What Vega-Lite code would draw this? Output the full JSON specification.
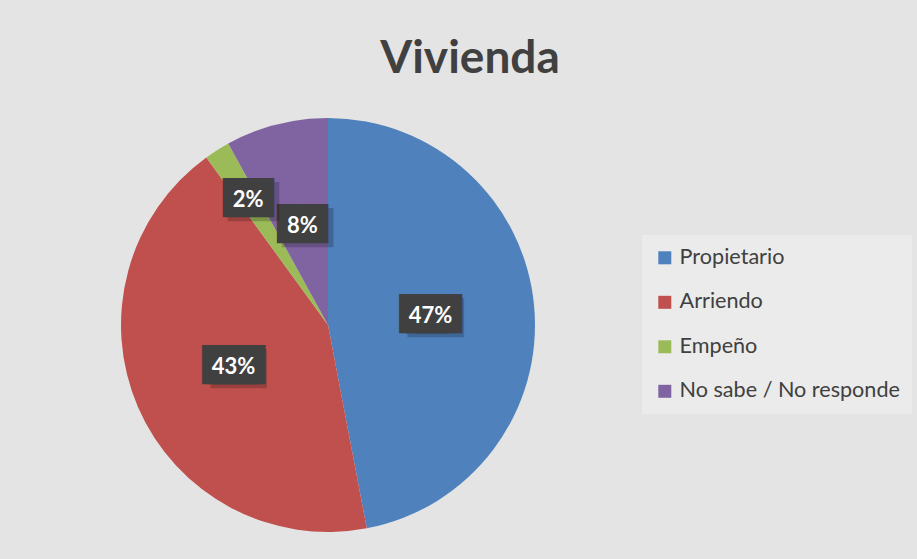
{
  "$schema": "https://vega.github.io/schema/vega-lite/v6.json",
  "width": 414,
  "height": 414,
  "autosize": {"type": "none"},
  "padding": {"left": 121, "top": 118, "right": 382, "bottom": 27},
  "background": "#e4e4e4",
  "title": {
    "text": "Vivienda",
    "anchor": "middle",
    "frame": "group",
    "dx": 142,
    "offset": 35,
    "fontSize": 46,
    "font": "Lato",
    "fontWeight": "bold",
    "color": "#404040"
  },
  "data": {
    "values": [
      {"categoria": "Propietario", "porcentaje": 0.47, "orden": 1},
      {"categoria": "Arriendo", "porcentaje": 0.43, "orden": 2},
      {"categoria": "Empeño", "porcentaje": 0.02, "orden": 3},
      {"categoria": "No sabe / No responde", "porcentaje": 0.08, "orden": 4}
    ]
  },
  "encoding": {
    "theta": {"field": "porcentaje", "type": "quantitative", "stack": true},
    "order": {"field": "orden", "type": "quantitative"}
  },
  "layer": [
    {
      "mark": {"type": "arc"},
      "encoding": {
        "color": {
          "field": "categoria",
          "type": "nominal",
          "sort": ["Propietario", "Arriendo", "Empeño", "No sabe / No responde"],
          "scale": {
            "domain": ["Propietario", "Arriendo", "Empeño", "No sabe / No responde"],
            "range": ["#4f81bd", "#c0504d", "#9bbb59", "#8064a2"]
          },
          "legend": {
            "title": null,
            "orient": "none",
            "legendX": 521,
            "legendY": 117,
            "symbolType": "square",
            "symbolSize": 169,
            "symbolStrokeWidth": 0,
            "labelFont": "Lato",
            "labelFontSize": 21.6,
            "labelLimit": 0,
            "labelColor": "#404040",
            "labelOffset": 4,
            "rowPadding": 21.5,
            "padding": 12,
            "fillColor": "#ebebeb"
          }
        }
      }
    },
    {
      "mark": {"type": "text", "radius": 103, "font": "DejaVu Sans", "fontSize": 33, "baseline": "middle", "align": "center", "dx": 5, "dy": 4, "color": "#000000"},
      "encoding": {
        "text": {"condition": {"test": "datum.porcentaje >= 0.1", "value": "▕██▏"}, "value": "██"},
        "opacity": {"condition": {"test": "datum.categoria === 'Empeño'", "value": 0}, "value": 0.2}
      }
    },
    {
      "mark": {"type": "text", "radius": 103, "font": "DejaVu Sans", "fontSize": 33, "baseline": "middle", "align": "center", "color": "#404040"},
      "encoding": {
        "text": {"value": "██"},
        "opacity": {"condition": {"test": "datum.categoria === 'Empeño'", "value": 0}, "value": 1}
      }
    },
    {
      "mark": {"type": "text", "radius": 103, "font": "DejaVu Sans", "fontSize": 33, "baseline": "middle", "align": "center", "dx": -6, "color": "#404040"},
      "encoding": {
        "text": {"condition": {"test": "datum.porcentaje >= 0.1", "value": "██"}, "value": ""}
      }
    },
    {
      "mark": {"type": "text", "radius": 103, "font": "DejaVu Sans", "fontSize": 33, "baseline": "middle", "align": "center", "dx": 6, "color": "#404040"},
      "encoding": {
        "text": {"condition": {"test": "datum.porcentaje >= 0.1", "value": "██"}, "value": ""}
      }
    },
    {
      "mark": {"type": "text", "radius": 103, "font": "Lato", "fontSize": 22, "fontWeight": "bold", "baseline": "middle", "align": "center", "dy": 1, "color": "#ffffff"},
      "encoding": {
        "text": {"field": "porcentaje", "type": "quantitative", "format": ".0%"},
        "opacity": {"condition": {"test": "datum.categoria === 'Empeño'", "value": 0}, "value": 1}
      }
    },
    {
      "mark": {"type": "text", "radius": 149, "font": "DejaVu Sans", "fontSize": 33, "baseline": "middle", "align": "center", "dx": 5, "dy": 4, "color": "#000000"},
      "encoding": {
        "text": {"value": "██"},
        "opacity": {"condition": {"test": "datum.categoria === 'Empeño'", "value": 0.2}, "value": 0}
      }
    },
    {
      "mark": {"type": "text", "radius": 149, "font": "DejaVu Sans", "fontSize": 33, "baseline": "middle", "align": "center", "color": "#404040"},
      "encoding": {
        "text": {"value": "██"},
        "opacity": {"condition": {"test": "datum.categoria === 'Empeño'", "value": 1}, "value": 0}
      }
    },
    {
      "mark": {"type": "text", "radius": 149, "font": "Lato", "fontSize": 22, "fontWeight": "bold", "baseline": "middle", "align": "center", "dy": 1, "color": "#ffffff"},
      "encoding": {
        "text": {"field": "porcentaje", "type": "quantitative", "format": ".0%"},
        "opacity": {"condition": {"test": "datum.categoria === 'Empeño'", "value": 1}, "value": 0}
      }
    }
  ],
  "config": {"view": {"stroke": null}}
}
